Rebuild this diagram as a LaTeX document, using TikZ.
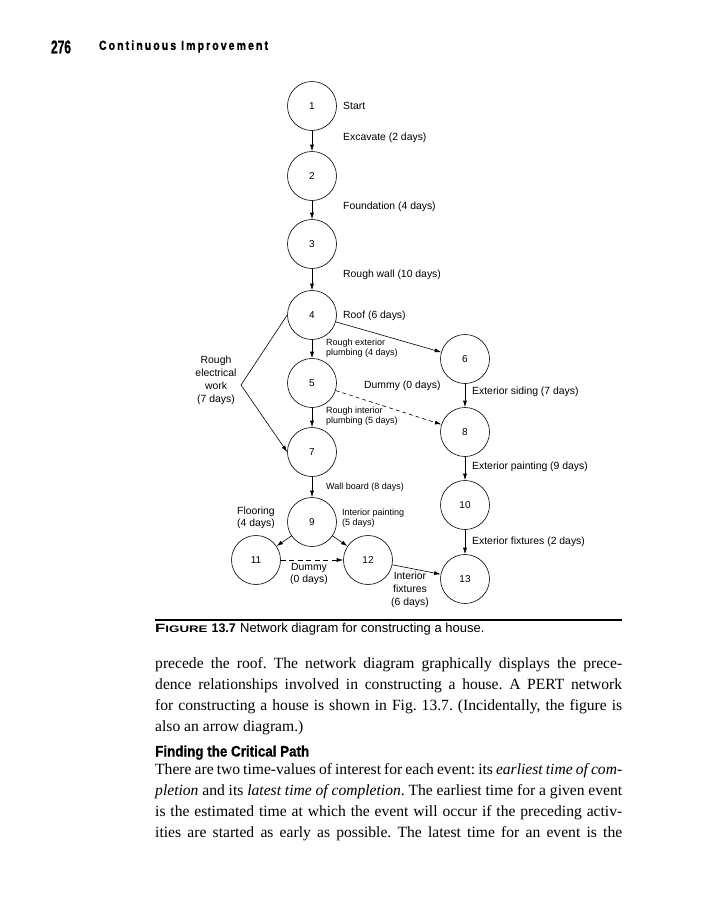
\documentclass[tikz,border=0pt]{standalone}
\usepackage{fontspec}
\setmainfont{Liberation Serif}
\setsansfont{Liberation Sans}
\newfontfamily\labfont{Liberation Sans}
\newfontfamily\hdrfont[LetterSpace=20, BoldFeatures={FakeBold=1.2}]{Liberation Sans}
\newfontfamily\headfont[BoldFeatures={FakeBold=1}]{Liberation Sans}
\usepackage{graphicx}
\usetikzlibrary{arrows.meta}
\newcommand\bodyline[1]{\makebox[467pt][s]{#1}}
\begin{document}
\frenchspacing
\begin{tikzpicture}[x=1pt,y=-1pt,
  ev/.style={circle, draw, line width=0.6pt, minimum size=49pt, inner sep=0pt,
    font=\labfont\fontsize{10}{12}\selectfont},
  lbl/.style={inner sep=0pt, font=\labfont\fontsize{10.4}{13}\selectfont},
  lblc/.style={inner sep=0pt, align=center, font=\labfont\fontsize{10.4}{13}\selectfont},
  lblf/.style={inner sep=0pt, align=center, font=\labfont\fontsize{10.4}{12}\selectfont},
  slbl/.style={inner sep=0pt, align=left, font=\labfont\fontsize{9}{10}\selectfont},
  arr/.style={line width=0.6pt, -{Latex[length=6.5pt,width=4pt]}},
  dsh/.style={dash pattern=on 4pt off 3pt},
  dshl/.style={dash pattern=on 5pt off 3.5pt},
  body/.style={inner sep=0pt, anchor=base west, font=\fontsize{15.6}{21}\selectfont},
]
\useasboundingbox (0,0) rectangle (715,900);
\fill[white] (0,0) rectangle (715,900);

% header
\node[inner sep=0pt] (pg) at (61,47) {\resizebox{20pt}{13pt}{\headfont\bfseries 276}};
\node[inner sep=0pt] (hd) at (183.5,46.5) {\resizebox{169pt}{9.5pt}{\hdrfont\bfseries Continuous Improvement}};

% events
\node[ev] (n1) at (312,106) {1};
\node[ev] (n2) at (312,176) {2};
\node[ev] (n3) at (312,244) {3};
\node[ev] (n4) at (312,315) {4};
\node[ev] (n5) at (312,383) {5};
\node[ev] (n7) at (312,452) {7};
\node[ev] (n9) at (312,522) {9};
\node[ev] (n6) at (465,359) {6};
\node[ev] (n8) at (465,432) {8};
\node[ev] (n10) at (465,505) {10};
\node[ev] (n13) at (465,579) {13};
\node[ev] (n11) at (256,560) {11};
\node[ev] (n12) at (368,560) {12};

% labels
\node[lbl, anchor=west] (t1) at (343,106) {Start};
\node[lbl, anchor=west] (t12) at (343,138) {Excavate (2 days)};
\node[lbl, anchor=west] (t23) at (343,207) {Foundation (4 days)};
\node[lbl, anchor=west] (t34) at (343,275) {Rough wall (10 days)};
\node[lbl, anchor=west] (t46) at (343,316) {Roof (6 days)};
\node[slbl, anchor=west] (t45) at (326,348) {Rough exterior\\plumbing (4 days)};
\node[lblc] (t47) at (216,380.5) {Rough\\electrical\\work\\(7 days)};
\node[lbl, anchor=west] (t58) at (364,386) {Dummy (0 days)};
\node[lbl, anchor=west] (t68) at (472,392) {Exterior siding (7 days)};
\node[slbl, anchor=west] (t57) at (326,416) {Rough interior\\plumbing (5 days)};
\node[lbl, anchor=west] (t810) at (472,467) {Exterior painting (9 days)};
\node[slbl, anchor=west] (t79) at (326,487) {Wall board (8 days)};
\node[lblf] (t911) at (256,518) {Flooring\\(4 days)};
\node[slbl, anchor=west] (t912) at (342,518) {Interior painting\\(5 days)};
\node[lbl, anchor=west] (t1013) at (472,542) {Exterior fixtures (2 days)};
\node[lblf] (t1112) at (309,574) {Dummy\\(0 days)};
\node[lblc] (t1213) at (410,590) {Interior\\fixtures\\(6 days)};

% connectors
\draw[arr] (n1) -- (n2);
\draw[arr] (n2) -- (n3);
\draw[arr] (n3) -- (n4);
\draw[arr] (n4) -- (n5);
\draw[arr] (n5) -- (n7);
\draw[arr] (n7) -- (n9);
\draw[arr] (n4) -- (n6);
\draw[arr] (n6) -- (n8);
\draw[arr] (n8) -- (n10);
\draw[arr] (n10) -- (n13);
\draw[arr] (n9) -- (n11);
\draw[arr] (n9) -- (n12);
\draw[arr] (n12) -- (n13);
\draw[arr, dsh] (n5) -- (n8);
\draw[arr, dshl] (n11) -- (n12);
\coordinate (re) at (241,385);
\draw[arr] (n4.west) -- (re) -- (n7.west);

% caption
\draw[line width=1.1pt] (155,620) -- (622,620);
\node[inner sep=0pt, anchor=base west] (fig) at (155,632)
  {\scalebox{1.4}[1]{\labfont\bfseries\fontsize{12}{12}\selectfont F\fontsize{9.5}{10}\selectfont IGURE}\hspace{4pt}{\labfont\bfseries\fontsize{12.5}{13}\selectfont 13.7}};
\node[inner sep=0pt, anchor=base west, font=\labfont\fontsize{13}{13}\selectfont] (cap) at (240,632)
  {Network diagram for constructing a house.};

% body text
\node[body] (b1) at (155,668) {\bodyline{precede the roof. The network diagram graphically displays the prece-}};
\node[body] (b2) at (155,689) {\bodyline{dence relationships involved in constructing a house. A PERT network}};
\node[body] (b3) at (155,710) {\bodyline{for constructing a house is shown in Fig. 13.7. (Incidentally, the figure is}};
\node[body] (b4) at (155,731) {also an arrow diagram.)};
\node[inner sep=0pt, anchor=base west] (hh) at (155,756.5)
  {\resizebox{154pt}{11pt}{\headfont\bfseries Finding the Critical Path}};
\node[body] (b5) at (155,774) {\bodyline{There are two time-values of interest for each event: its \textit{earliest time of com-}}};
\node[body] (b6) at (155,795) {\bodyline{\textit{pletion} and its \textit{latest time of completion}. The earliest time for a given event}};
\node[body] (b7) at (155,816) {\bodyline{is the estimated time at which the event will occur if the preceding activ-}};
\node[body] (b8) at (155,837) {\bodyline{ities are started as early as possible. The latest time for an event is the}};
\end{tikzpicture}
\end{document}
